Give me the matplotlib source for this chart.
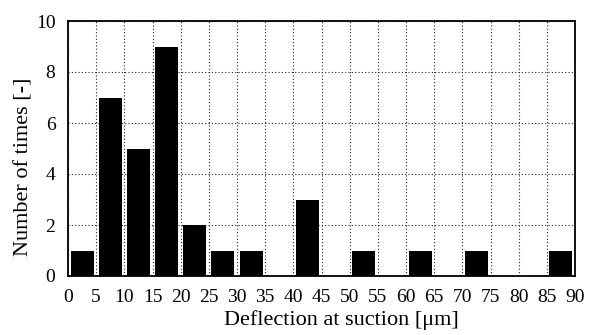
import numpy as np
import matplotlib.pyplot as plt

plt.rcParams['font.family'] = ['Liberation Serif', 'DejaVu Serif']

# bin edges (µm) and counts per bin
bin_left = [0, 5, 10, 15, 20, 25, 30, 35, 40, 45, 50, 55, 60, 65, 70, 75, 80, 85]
counts = [1, 7, 5, 9, 2, 1, 1, 0, 3, 0, 1, 0, 1, 0, 1, 0, 0, 1]
xticks = list(range(0, 95, 5))
yticks = [0, 2, 4, 6, 8, 10]

fig = plt.figure(figsize=(5.94, 3.35), dpi=100)
ax = fig.add_axes([68 / 594, 1 - 276 / 335, 507 / 594, 255 / 335])

centers = np.array(bin_left) + 2.5
ax.bar(centers, counts, width=4.1, color='black', zorder=3)

ax.set_xlim(0, 90)
ax.set_ylim(0, 10)
ax.set_xticks(xticks)
ax.set_yticks(yticks)
ax.tick_params(length=0, labelsize=14)
ax.tick_params(axis='x', pad=9)
ax.tick_params(axis='y', pad=9)
ax.grid(True, linestyle=(0, (1, 2)), color='#222222', linewidth=0.8, zorder=1)
for s in ax.spines.values():
    s.set_linewidth(1.3)

ax.set_xlabel('Deflection at suction [μm]', fontsize=16)
ax.set_ylabel('Number of times [-]', fontsize=16)
ax.xaxis.set_label_coords(0.54, -0.135)
ax.yaxis.set_label_coords(-0.069, 0.43)

fig.savefig('out.png', dpi=100)
